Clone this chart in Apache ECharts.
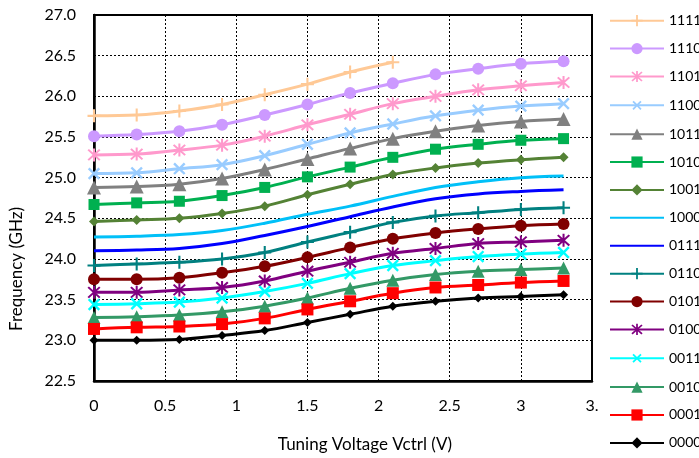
<!DOCTYPE html>
<html>
<head>
<meta charset="utf-8">
<script src="https://cdn.jsdelivr.net/npm/echarts@6/dist/echarts.min.js"></script>
<style>html,body{margin:0;padding:0;background:#fff;}#c{width:699px;height:458px;}</style>
</head>
<body>
<div id="c"></div>
<script>
const voltage = [0, 0.3, 0.6, 0.9, 1.2, 1.5, 1.8, 2.1, 2.4, 2.7, 3.0, 3.3];
const xTicks = [0, 0.5, 1, 1.5, 2, 2.5, 3, 3.5];
const yTicks = [22.5, 23.0, 23.5, 24.0, 24.5, 25.0, 25.5, 26.0, 26.5, 27.0];
const yTitle = 'Frequency (GHz)';
const xTitle = 'Tuning Voltage Vctrl (V)';
const s1111 = [25.76, 25.77, 25.82, 25.90, 26.02, 26.15, 26.30, 26.42];
const s1110 = [25.51, 25.53, 25.57, 25.65, 25.77, 25.90, 26.04, 26.16, 26.27, 26.34, 26.40, 26.43];
const s1101 = [25.28, 25.29, 25.34, 25.40, 25.51, 25.65, 25.78, 25.91, 26.00, 26.08, 26.13, 26.17];
const s1100 = [25.05, 25.06, 25.11, 25.16, 25.27, 25.41, 25.55, 25.66, 25.76, 25.83, 25.88, 25.91];
const s1011 = [24.88, 24.89, 24.92, 24.99, 25.10, 25.23, 25.36, 25.48, 25.57, 25.64, 25.69, 25.72];
const s1010 = [24.67, 24.69, 24.71, 24.78, 24.88, 25.01, 25.13, 25.25, 25.35, 25.41, 25.46, 25.48];
const s1001 = [24.46, 24.48, 24.50, 24.56, 24.65, 24.79, 24.92, 25.04, 25.12, 25.18, 25.22, 25.25];
const s1000 = [24.27, 24.28, 24.30, 24.35, 24.44, 24.55, 24.65, 24.77, 24.88, 24.95, 25.00, 25.02];
const s0111 = [24.10, 24.11, 24.13, 24.19, 24.29, 24.40, 24.52, 24.64, 24.74, 24.80, 24.83, 24.85];
const s0110 = [23.92, 23.94, 23.96, 24.00, 24.08, 24.21, 24.33, 24.45, 24.53, 24.57, 24.61, 24.63];
const s0101 = [23.75, 23.75, 23.77, 23.83, 23.91, 24.02, 24.14, 24.25, 24.32, 24.37, 24.41, 24.43];
const s0100 = [23.59, 23.59, 23.62, 23.65, 23.73, 23.85, 23.96, 24.07, 24.13, 24.19, 24.21, 24.23];
const s0011 = [23.44, 23.45, 23.47, 23.52, 23.60, 23.70, 23.82, 23.92, 23.98, 24.03, 24.06, 24.08];
const s0010 = [23.28, 23.29, 23.31, 23.35, 23.42, 23.52, 23.64, 23.74, 23.81, 23.85, 23.87, 23.89];
const s0001 = [23.14, 23.16, 23.17, 23.20, 23.27, 23.38, 23.48, 23.58, 23.65, 23.68, 23.71, 23.73];
const s0000 = [23.00, 23.00, 23.01, 23.06, 23.12, 23.22, 23.32, 23.42, 23.48, 23.52, 23.54, 23.56];

const PLUS = 'path://M4.2,0h1.6v4.2h4.2v1.6h-4.2v4.2h-1.6v-4.2h-4.2v-1.6h4.2z';
const STAR = 'path://M4.3,0h1.4v10h-1.4zM0.5,1.5L1.5,0.5L9.5,8.5L8.5,9.5zM8.5,0.5L9.5,1.5L1.5,9.5L0.5,8.5z';

const defs = [
  ['1111', s1111, '#FFC996', PLUS, 13, 0],
  ['1110', s1110, '#CC99FF', 'circle', 12, 0],
  ['1101', s1101, '#FF99CC', STAR, 13, 0],
  ['1100', s1100, '#99CCFF', PLUS, 15, 45],
  ['1011', s1011, '#808080', 'triangle', 14, 0],
  ['1010', s1010, '#00B050', 'rect', 11, 0],
  ['1001', s1001, '#548235', 'diamond', 10, 0],
  ['1000', s1000, '#00C0F8', 'none', 0, 0],
  ['0111', s0111, '#0000FF', 'none', 0, 0],
  ['0110', s0110, '#008080', PLUS, 13, 0],
  ['0101', s0101, '#800000', 'circle', 12, 0],
  ['0100', s0100, '#800080', STAR, 13, 0],
  ['0011', s0011, '#00FFFF', PLUS, 15, 45],
  ['0010', s0010, '#339966', 'triangle', 13, 0],
  ['0001', s0001, '#FF0000', 'rect', 12, 0],
  ['0000', s0000, '#000000', 'diamond', 9, 0]
];

const FONT = 'Lato';
const series = defs.map(d => ({
  name: d[0],
  type: 'line',
  smooth: 0.35,
  data: d[1].map((v, i) => [voltage[i], v]),
  symbol: d[3],
  symbolSize: d[4],
  symbolRotate: d[5],
  showSymbol: d[3] !== 'none',
  lineStyle: { color: d[2], width: 3 },
  itemStyle: { color: d[2], borderColor: d[2], borderWidth: 0 },
  emphasis: { disabled: true }
}));

const legendData = defs.map(d => (d[3] === 'none'
  ? { name: d[0], itemStyle: { opacity: 0 } }
  : { name: d[0] }));

const chart = echarts.init(document.getElementById('c'), null, { renderer: 'canvas' });
chart.setOption({
  animation: false,
  backgroundColor: '#fff',
  textStyle: { fontFamily: FONT, color: '#000' },
  grid: { left: 94, right: 107, top: 15, bottom: 65, show: true, borderColor: '#000', borderWidth: 2 },
  legend: {
    data: legendData,
    orient: 'vertical',
    left: 609,
    top: 13.7,
    padding: 0,
    itemWidth: 54,
    itemHeight: 14,
    itemGap: 13.9,
    textStyle: { fontFamily: FONT, fontSize: 14, lineHeight: 14, color: '#000' }
  },
  graphic: [{
    type: 'text',
    x: 17,
    y: 269,
    rotation: Math.PI / 2,
    style: { text: yTitle, fontFamily: FONT, fontSize: 17, fill: '#000', align: 'center', verticalAlign: 'middle' }
  }],
  xAxis: {
    type: 'value',
    min: xTicks[0],
    max: xTicks[xTicks.length - 1],
    interval: 0.5,
    name: xTitle,
    nameLocation: 'middle',
    nameGap: 55,
    nameTextStyle: { fontFamily: FONT, fontSize: 17, color: '#000', padding: [0, 0, 0, 44] },
    axisLine: { lineStyle: { color: '#000', width: 2.5 } },
    axisTick: { show: false },
    axisLabel: {
      fontFamily: FONT, fontSize: 16, color: '#000', margin: 17,
      formatter: v => (v === 3.5 ? '3.' : String(v))
    },
    splitLine: { show: true, lineStyle: { color: '#000', type: [2, 2], width: 1 } }
  },
  yAxis: {
    type: 'value',
    min: yTicks[0],
    max: yTicks[yTicks.length - 1],
    interval: 0.5,
    axisLine: { show: true, lineStyle: { color: '#000', width: 2.5 } },
    axisTick: { show: false },
    axisLabel: { fontFamily: FONT, fontSize: 16, color: '#000', margin: 18, formatter: v => v.toFixed(1) },
    splitLine: { show: true, lineStyle: { color: '#000', type: [2, 2], width: 1 } }
  },
  series: series
});
</script>
</body>
</html>
